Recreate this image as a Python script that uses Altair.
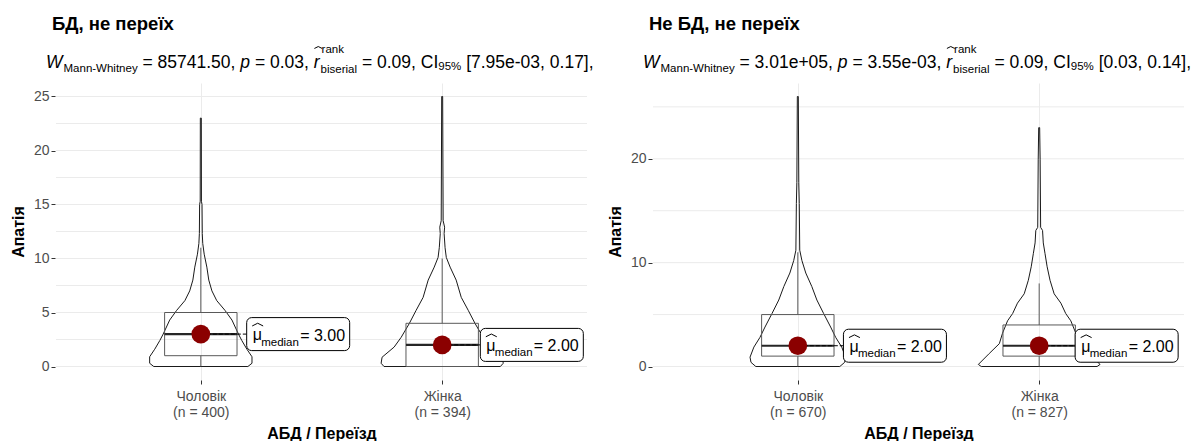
import altair as alt
import pandas as pd

FONT = "Liberation Sans"

# ---------------- data ----------------
panel_titles = ["БД, не переїх", "Не БД, не переїх"]
categories = ["Чоловік", "Жінка"]
counts = [[400, 394], [670, 827]]
x_title = "АБД / Переїзд"
y_title = "Апатія"

stat_W = ["85741.50", "3.01e+05"]
stat_p = ["0.03", "3.55e-03"]
stat_r = ["0.09", "0.09"]
stat_ci = ["[7.95e-03, 0.17],", "[0.03, 0.14],"]

medians = [[3.0, 2.0], [2.0, 2.0]]
q1s = [[1, 0], [1, 1]]
q3s = [[5, 4], [5, 4]]
whisk_lo = [[0, 0], [0, 0]]
whisk_hi = [[11, 10], [11, 8]]

y_domains = [[-1.25, 26.25], [-1.3, 27.3]]
y_major = [[0, 5, 10, 15, 20, 25], [0, 10, 20]]
y_minor = [[2.5, 7.5, 12.5, 17.5, 22.5], [5, 15, 25]]

# violin outlines: value levels and half-widths (category units)
vio_L_m_y = [0, 0.3, 0.9, 1.6, 2.4, 3.0, 4.3, 5.2, 6.1, 7.0, 8.0, 9.2, 10.4, 11.4, 12.3, 15.0, 15.3, 23.0]
vio_L_m_w = [0.195, 0.212, 0.212, 0.191, 0.170, 0.156, 0.129, 0.100, 0.066, 0.046, 0.033, 0.025, 0.014, 0.008, 0.006, 0.005, 0.0025, 0.002]
vio_L_f_y = [0, 0.3, 0.86, 1.8, 2.7, 3.95, 5.2, 6.4, 8.0, 9.2, 10.1, 11.0, 12.3, 12.9, 13.5, 25.0]
vio_L_f_w = [0.241, 0.253, 0.249, 0.199, 0.170, 0.137, 0.108, 0.079, 0.058, 0.033, 0.017, 0.012, 0.008, 0.010, 0.004, 0.002]
vio_R_m_y = [0, 0.4, 0.9, 1.87, 2.8, 3.8, 5.1, 6.4, 7.7, 9.0, 10.2, 11.2, 15.7, 17.7, 26.0]
vio_R_m_w = [0.174, 0.194, 0.198, 0.182, 0.157, 0.136, 0.107, 0.079, 0.058, 0.033, 0.017, 0.008, 0.006, 0.004, 0.002]
vio_R_f_y = [0, 0.2, 1.25, 2.2, 3.2, 4.4, 5.1, 6.1, 7.0, 8.3, 9.6, 10.9, 11.9, 13.1, 13.4, 19.9, 23.0]
vio_R_f_w = [0.240, 0.252, 0.207, 0.165, 0.152, 0.131, 0.110, 0.090, 0.062, 0.045, 0.033, 0.024, 0.017, 0.014, 0.006, 0.004, 0.002]

violin_y = [[vio_L_m_y, vio_L_f_y], [vio_R_m_y, vio_R_f_y]]
violin_w = [[vio_L_m_w, vio_L_f_w], [vio_R_m_w, vio_R_f_w]]

# ---------------- layout constants ----------------
W_PLOT = 531
H_PLOT = 297
PX_X = W_PLOT / 2.2
BOX_HW = 0.15
LABEL_DX = [[0.19, 0.158], [0.189, 0.149]]   # repel offsets of the median labels
LABEL_W = 103
LABEL_H = 33

CW = {' ': .278, '=': .584, '.': .278, ',': .278, '[': .278, ']': .278, '-': .333,
      '+': .584, '%': .889, 'C': .722, 'I': .278, 'M': .833, 'W': .944,
      'a': .556, 'b': .556, 'd': .556, 'e': .556, 'h': .556, 'i': .222, 'k': .5,
      'l': .222, 'm': .833, 'n': .556, 'p': .556, 'r': .333, 's': .5, 't': .278, 'y': .5}
for d in "0123456789":
    CW[d] = .556


def tw(s, size):
    return sum(CW.get(ch, 0.556) for ch in s) * size


ONE = pd.DataFrame({"d": [0]})
HAT = "M-1,0.25L0,-0.25L1,0.25"


def txt(text, x, y, size, style="normal", weight="normal", color="black"):
    lead = len(text) - len(text.lstrip(" "))
    x = x + tw(" " * lead, size)
    return alt.Chart(ONE).mark_text(
        text=text.strip(" "), fontSize=size, fontStyle=style, fontWeight=weight, color=color,
        align="left", baseline="alphabetic", font=FONT
    ).encode(x=alt.value(x), y=alt.value(y))


def header_layers(i):
    layers = [txt(panel_titles[i], -4, -53.5, 18.5, weight="bold")]
    F, S = 17.5, 11.5
    yb = -15.5
    x = -10
    layers.append(txt("W", x, yb, F, style="italic")); x += tw("W", F) + 1
    layers.append(txt("Mann-Whitney", x, yb + 4, S)); x += tw("Mann-Whitney", S)
    s = " = " + stat_W[i] + ", "
    layers.append(txt(s, x, yb, F)); x += tw(s, F)
    layers.append(txt("p", x, yb, F, style="italic")); x += tw("p", F)
    s = " = " + stat_p[i] + ", "
    layers.append(txt(s, x, yb, F)); x += tw(s, F)
    layers.append(txt("r", x, yb, F, style="italic"))
    layers.append(alt.Chart(ONE).mark_point(shape=HAT, size=60, filled=False, color="black",
                                            strokeWidth=1, opacity=1)
                  .encode(x=alt.value(x + 4.5), y=alt.value(yb - 20)))
    x += tw("r", F) + 1
    layers.append(txt("rank", x + 1, yb - 14.5, S))
    layers.append(txt("biserial", x, yb + 5, S)); x += tw("biserial", S)
    s = " = " + stat_r[i] + ", CI"
    layers.append(txt(s, x, yb, F)); x += tw(s, F)
    layers.append(txt("95%", x, yb + 2, S)); x += tw("95%", S)
    s = " " + stat_ci[i]
    layers.append(txt(s, x, yb, F))
    return layers


def panel(i):
    ydom = y_domains[i]
    py = H_PLOT / (ydom[1] - ydom[0])
    xs = alt.Scale(domain=[0.4, 2.6], nice=False, zero=False)
    ys = alt.Scale(domain=ydom, nice=False, zero=False)
    lab = ("datum.value == 1 ? ['%s', '(n = %d)'] : ['%s', '(n = %d)']"
           % (categories[0], counts[i][0], categories[1], counts[i][1]))
    xaxis = alt.Axis(values=[1, 2], labelExpr=lab, title=x_title, titleFontSize=16,
                     titleFontWeight="bold", titleColor="black", titlePadding=6,
                     labelFontSize=14, labelColor="#4D4D4D", labelLineHeight=16,
                     labelPadding=5, tickSize=4, tickColor="#333333", domain=False,
                     grid=True, gridColor="#EBEBEB", gridWidth=1)
    yaxis = alt.Axis(values=y_major[i], format="d", title=y_title, titleFontSize=16,
                     titleFontWeight="bold", titleColor="black", titlePadding=7,
                     labelFontSize=14, labelColor="#4D4D4D", labelPadding=2,
                     tickSize=4, tickColor="#333333", offset=1, domain=False, grid=False)

    def X(f):
        return alt.X(f, type="quantitative", scale=xs, axis=xaxis)

    def Y(f):
        return alt.Y(f, type="quantitative", scale=ys, axis=yaxis)

    grid_df = pd.DataFrame({"v": y_major[i] + y_minor[i]})
    grid = alt.Chart(grid_df).mark_rule(color="#EBEBEB", strokeWidth=1).encode(
        y=Y("v"), x=alt.value(0), x2=alt.value(W_PLOT))

    rows = []
    for j in range(2):
        c = j + 1
        vy, vw = violin_y[i][j], violin_w[i][j]
        n = len(vy)
        pts = [(c - vw[k], vy[k]) for k in range(n)] + [(c + vw[k], vy[k]) for k in reversed(range(n))]
        pts.append(pts[0])
        for o, (px, pyv) in enumerate(pts):
            rows.append({"g": j, "o": o, "x": px, "y": pyv})
    vdf = pd.DataFrame(rows)
    violin = alt.Chart(vdf).mark_line(color="#1a1a1a", strokeWidth=1).encode(
        x=X("x"), y=Y("y"), order="o:Q", detail="g:N")

    sdf = pd.DataFrame({
        "c": [1, 2],
        "med": medians[i], "q1": q1s[i], "q3": q3s[i],
        "lo": whisk_lo[i], "hi": whisk_hi[i],
        "lab": ["= %.2f" % m for m in medians[i]],
    })
    sdf["bl"] = sdf["c"] - BOX_HW
    sdf["br"] = sdf["c"] + BOX_HW
    sdf["lx"] = sdf["c"] + pd.Series(LABEL_DX[i])
    sdf["lx2"] = sdf["lx"] + LABEL_W / PX_X
    sdf["ly1"] = sdf["med"] - (LABEL_H / 2) / py
    sdf["ly2"] = sdf["med"] + (LABEL_H / 2) / py
    base = alt.Chart(sdf)

    box = base.mark_rect(fill="white", fillOpacity=0, stroke="#595959", strokeWidth=1).encode(
        x=X("bl"), x2="br", y=Y("q1"), y2="q3")
    wh_hi = base.mark_rule(color="#595959", strokeWidth=1).encode(x=X("c"), y=Y("q3"), y2="hi")
    wh_lo = base.mark_rule(color="#595959", strokeWidth=1).encode(x=X("c"), y=Y("q1"), y2="lo")
    medl = base.mark_rule(color="#262626", strokeWidth=2.2).encode(x=X("bl"), x2="br", y=Y("med"))
    conn = base.mark_rule(color="black", strokeWidth=1, strokeDash=[4, 2]).encode(
        x=X("c"), x2="lx", y=Y("med"))
    pt = base.mark_circle(size=350, color="#8B0000", opacity=1).encode(x=X("c"), y=Y("med"))
    lbox = base.mark_rect(fill="white", stroke="black", strokeWidth=1, cornerRadius=5).encode(
        x=X("lx"), x2="lx2", y=Y("ly1"), y2="ly2")
    mu = base.mark_text(text="μ", fontSize=16, align="left", baseline="alphabetic",
                        dx=6, dy=6, color="black").encode(x=X("lx"), y=Y("med"))
    mhat = base.mark_point(shape=HAT, size=120, filled=False, color="black", strokeWidth=1,
                           opacity=1, xOffset=11, yOffset=-9.5).encode(x=X("lx"), y=Y("med"))
    msub = base.mark_text(text="median", fontSize=11.5, align="left", baseline="alphabetic",
                          dx=14.5, dy=11.5, color="black").encode(x=X("lx"), y=Y("med"))
    mval = base.mark_text(fontSize=16, align="left", baseline="alphabetic",
                          dx=53.5, dy=6.5, color="black").encode(x=X("lx"), y=Y("med"), text="lab:N")

    layers = [grid, violin, box, wh_hi, wh_lo, medl, conn, pt, lbox, mu, mhat, msub, mval]
    layers += header_layers(i)
    return alt.layer(*layers).properties(width=W_PLOT, height=H_PLOT)


chart = alt.hconcat(panel(0), panel(1), spacing=13).properties(
    padding={"left": 2, "top": 6, "right": 0, "bottom": 0}
).configure(font=FONT, background="white").configure_view(stroke=None)

chart.save("out.html", embed_options={"renderer": "svg", "actions": False})
